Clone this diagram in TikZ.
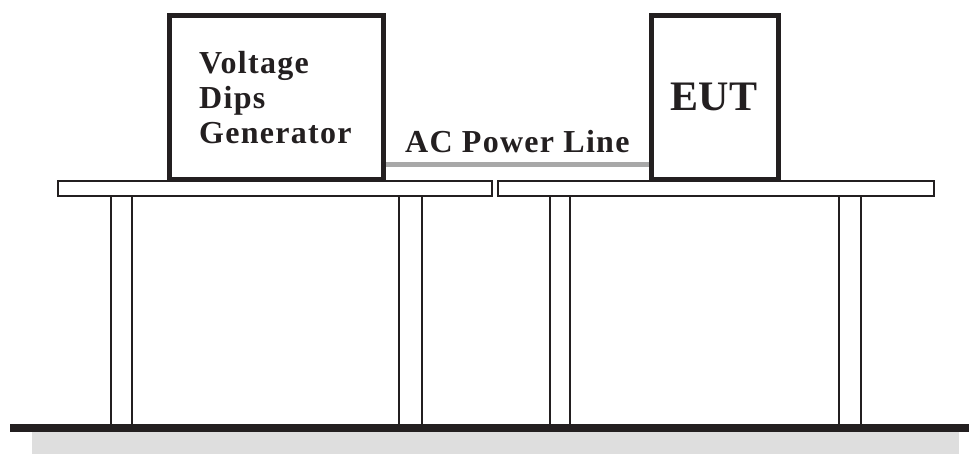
\documentclass[tikz,border=0pt]{standalone}
\usepackage{fontspec}
\setmainfont{Liberation Serif}
\definecolor{ink}{HTML}{231F20}
\definecolor{wire}{HTML}{A8A8A8}
\definecolor{floorgray}{HTML}{DEDEDE}
\begin{document}
\begin{tikzpicture}[x=1pt,y=-1pt,
  device/.style={draw=ink, line width=5pt, fill=white, inner sep=0pt},
  tabletop/.style={draw=ink, line width=2pt, fill=white},
  leg/.style={draw=ink, line width=2pt},
  wireline/.style={draw=wire, line width=5pt},
  lbl/.style={text=ink, inner sep=0pt, font=\bfseries\addfontfeature{LetterSpace=4}\fontsize{32}{35}\selectfont}
]
\useasboundingbox (0,0) rectangle (969,454);
% floor
\fill[floorgray] (32,432) rectangle (959,454);
% legs
\foreach \a/\b in {111/132, 399/422, 550/570, 839/861}{
  \draw[leg] (\a,196) -- (\a,425);
  \draw[leg] (\b,196) -- (\b,425);
}
\fill[ink] (10,424) rectangle (969,432);
% table tops
\draw[tabletop] (58,181) rectangle (492,196);
\draw[tabletop] (498,181) rectangle (934,196);
% devices
\node[device, minimum width=214pt, minimum height=164pt] (gen) at (276.5,97.5) {};
\node[device, minimum width=127pt, minimum height=164pt] (eut) at (715,97.5) {};
\coordinate (pl) at (0,164.5);
\draw[wireline] (gen.east |- pl) -- (eut.west |- pl);
% labels
\node[lbl, anchor=north west, align=left] (gentext) at (199,51) {Voltage\\Dips\\Generator};
\node[lbl, anchor=base, font=\bfseries\fontsize{42}{46}\selectfont] (euttext) at (714,111) {EUT};
\node[lbl, anchor=base west] (pltext) at (405,153) {AC Power Line};
\end{tikzpicture}
\end{document}
